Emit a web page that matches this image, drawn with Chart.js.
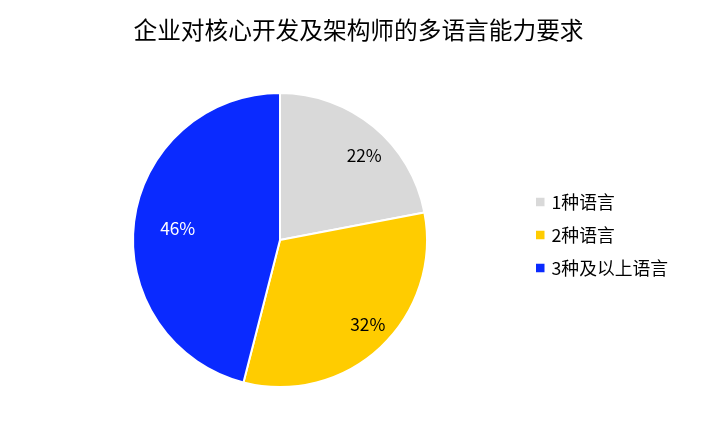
<!DOCTYPE html>
<html>
<head>
<meta charset="utf-8">
<script src="https://cdn.jsdelivr.net/npm/chart.js@4"></script>
<style>
html,body{margin:0;padding:0;background:#fff;}
#wrap{width:720px;height:432px;}
</style>
</head>
<body>
<div id="wrap"><canvas id="c" width="720" height="432"></canvas></div>
<script>
const titleText = '企业对核心开发及架构师的多语言能力要求';
const categories = ['1种语言', '2种语言', '3种及以上语言'];
const shares = [22, 32, 46];
const sliceColors = ['#D9D9D9', '#FFCC00', '#0A2AFF'];
const labelColors = ['#000000', '#000000', '#FFFFFF'];
const labelRadius = [0.81, 0.83, 0.70];
const labelAngleShift = [5.4, -2.8, -1.0];

const FONT = '"Noto Sans CJK SC", "Noto Sans", sans-serif';

const topTitle = {
  id: 'topTitle',
  afterDraw(chart) {
    const ctx = chart.ctx;
    ctx.save();
    ctx.font = '23.7px ' + FONT;
    ctx.fillStyle = '#000000';
    ctx.textAlign = 'center';
    ctx.textBaseline = 'middle';
    ctx.fillText(titleText, 358.5, 30);
    ctx.restore();
  }
};

const pctLabels = {
  id: 'pctLabels',
  afterDatasetsDraw(chart) {
    const ctx = chart.ctx;
    const meta = chart.getDatasetMeta(0);
    ctx.save();
    ctx.font = '17.3px ' + FONT;
    ctx.textAlign = 'center';
    ctx.textBaseline = 'middle';
    meta.data.forEach((arc, i) => {
      const p = arc.getProps(['x','y','startAngle','endAngle','outerRadius'], true);
      const mid = (p.startAngle + p.endAngle) / 2 + labelAngleShift[i] * Math.PI / 180;
      const r = p.outerRadius * labelRadius[i];
      ctx.fillStyle = labelColors[i];
      ctx.fillText(shares[i] + '%', p.x + Math.cos(mid) * r, p.y + Math.sin(mid) * r);
    });
    ctx.restore();
  }
};

const sideLegend = {
  id: 'sideLegend',
  afterDraw(chart) {
    const ctx = chart.ctx;
    ctx.save();
    ctx.font = '17.8px ' + FONT;
    ctx.textBaseline = 'middle';
    ctx.textAlign = 'left';
    const x0 = 536, y0 = 202, step = 33, box = 8.5;
    chart.data.labels.forEach((lab, i) => {
      const y = y0 + i * step;
      ctx.fillStyle = chart.data.datasets[0].backgroundColor[i];
      ctx.fillRect(x0, y - box / 2, box, box);
      ctx.fillStyle = '#000000';
      ctx.fillText(lab, x0 + 15.5, y);
    });
    ctx.restore();
  }
};

new Chart(document.getElementById('c'), {
  type: 'pie',
  data: {
    labels: categories,
    datasets: [{
      data: shares,
      backgroundColor: sliceColors,
      borderColor: '#FFFFFF',
      borderWidth: 2
    }]
  },
  options: {
    responsive: false,
    animation: false,
    devicePixelRatio: 1,
    layout: { padding: { top: 92, bottom: 44, left: 132, right: 292 } },
    plugins: {
      legend: { display: false },
      tooltip: { enabled: false },
      title: { display: false }
    }
  },
  plugins: [pctLabels, sideLegend, topTitle]
});
</script>
</body>
</html>
